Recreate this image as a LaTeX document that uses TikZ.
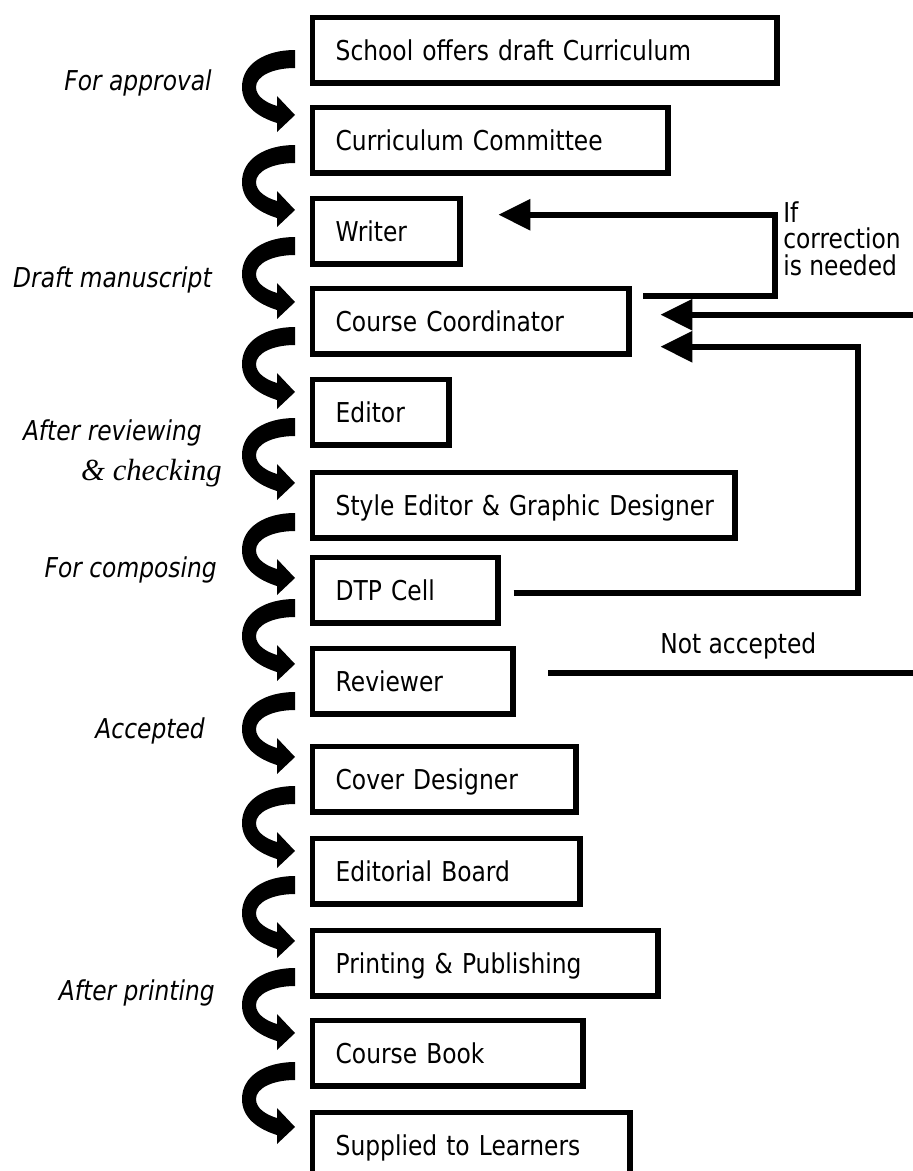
\documentclass[tikz,border=0pt]{standalone}
\usepackage{fontspec}
\setmainfont{DejaVu Sans}[FakeStretch=0.855]
\newfontfamily\serifit{Liberation Serif}
\usetikzlibrary{arrows.meta,calc}
\begin{document}
\begin{tikzpicture}[x=0.75pt,y=-0.75pt,
  box/.style={draw, line width=4.1pt, anchor=north west, inner xsep=17.4pt, inner ysep=0pt,
    minimum height=49.1pt, align=left, text height=15pt, text depth=0pt,
    font=\fontsize{20.5}{24}\selectfont, text width=#1},
  lab/.style={anchor=base east, inner sep=0pt, font=\fontsize{20.5}{24}\selectfont\itshape},
  conn/.style={line width=4.5pt},
  tri/.style={-{Triangle[length=24pt,width=22.5pt]}},
  carrow/.pic={\fill (0,0) .. controls (-30,0) and (-53,14) .. (-53,37)
      .. controls (-53,56) and (-37,67) .. (-18,73) -- (-18,82) -- (0,65) -- (-18,46) -- (-18,56)
      .. controls (-28,53) and (-39,47) .. (-39,37) .. controls (-39,26) and (-22,18) .. (0,18) -- cycle;}
]
\useasboundingbox (0,0) rectangle (913,1171);

% boxes
\node[box=313.5pt] (s1) at (309.75,14.75) {\mbox{School offers draft Curriculum}};
\node[box=231.75pt] (s2) at (309.75,104.75) {\mbox{Curriculum Committee}};
\node[box=75.75pt] (s3) at (309.75,195.75) {\mbox{Writer}};
\node[box=202.5pt] (s4) at (309.75,285.75) {\mbox{Course Coordinator}};
\node[box=67.5pt] (s5) at (309.75,376.75) {\mbox{Editor}};
\node[box=282pt] (s6) at (309.75,469.75) {\mbox{Style Editor \& Graphic Designer}};
\node[box=104.25pt] (s7) at (309.75,554.75) {\mbox{DTP Cell}};
\node[box=115.5pt] (s8) at (309.75,645.75) {\mbox{Reviewer}};
\node[box=162.75pt] (s9) at (309.75,743.75) {\mbox{Cover Designer}};
\node[box=165.75pt] (s10) at (309.75,835.75) {\mbox{Editorial Board}};
\node[box=224.25pt] (s11) at (309.75,927.75) {\mbox{Printing \& Publishing}};
\node[box=168pt] (s12) at (309.75,1017.75) {\mbox{Course Book}};
\node[box=203.25pt] (s13) at (309.75,1109.75) {\mbox{Supplied to Learners}};

% curved arrows
\pic at ($(s1.north west)+(-14.75,35.25)$) {carrow};
\pic at ($(s2.north west)+(-14.75,40.25)$) {carrow};
\pic at ($(s3.north west)+(-14.75,41.25)$) {carrow};
\pic at ($(s4.north west)+(-14.75,41.25)$) {carrow};
\pic at ($(s5.north west)+(-14.75,41.25)$) {carrow};
\pic at ($(s6.north west)+(-14.75,43.25)$) {carrow};
\pic at ($(s7.north west)+(-14.75,44.25)$) {carrow};
\pic at ($(s8.north west)+(-14.75,46.25)$) {carrow};
\pic at ($(s9.north west)+(-14.75,42.25)$) {carrow};
\pic at ($(s10.north west)+(-14.75,40.25)$) {carrow};
\pic at ($(s11.north west)+(-14.75,40.25)$) {carrow};
\pic at ($(s12.north west)+(-14.75,44.25)$) {carrow};

% left labels
\node[lab] (l1) at (212,90) {For approval};
\node[lab] (l2) at (212,287) {Draft manuscript};
\node[lab] (l3) at (202,440) {After reviewing};
\node[anchor=base east, inner sep=0pt, font=\serifit\itshape\fontsize{23}{23}\selectfont] (l4) at (222,480) {\& checking};
\node[lab] (l5) at (217,577) {For composing};
\node[lab] (l6) at (205,738) {Accepted};
\node[lab] (l7) at (215,1000) {After printing};

% right side connectors
\coordinate (ccout) at ($(s4.east)+(11.75,-25.5)$);
\coordinate (dtpout) at ($(s7.east)+(13,2.5)$);
\coordinate (revout) at ($(s8.east)+(32.75,-8.5)$);
\coordinate (tipA) at ($(s4.east)+(28.75,-6.5)$);
\coordinate (edge) at (920,0);

\draw[conn,tri] (ccout) -- ++(132,0) |- ($(s3.east)+(35.75,-16.5)$);
\draw[conn,tri] (tipA -| edge) -- (tipA);
\draw[conn,tri] (dtpout) -- ++(344,0) |- ($(s4.east)+(28.75,25.5)$);
\draw[conn] (revout) -- (revout -| edge);

\node[anchor=north west, inner sep=0pt, align=left, font=\fontsize{20.5}{20}\selectfont] (corr) at (783,201) {If\\correction\\is needed};
\node[anchor=base west, inner sep=0pt, font=\fontsize{20.5}{24}\selectfont] (na) at (660,653) {Not accepted};
\end{tikzpicture}
\end{document}
